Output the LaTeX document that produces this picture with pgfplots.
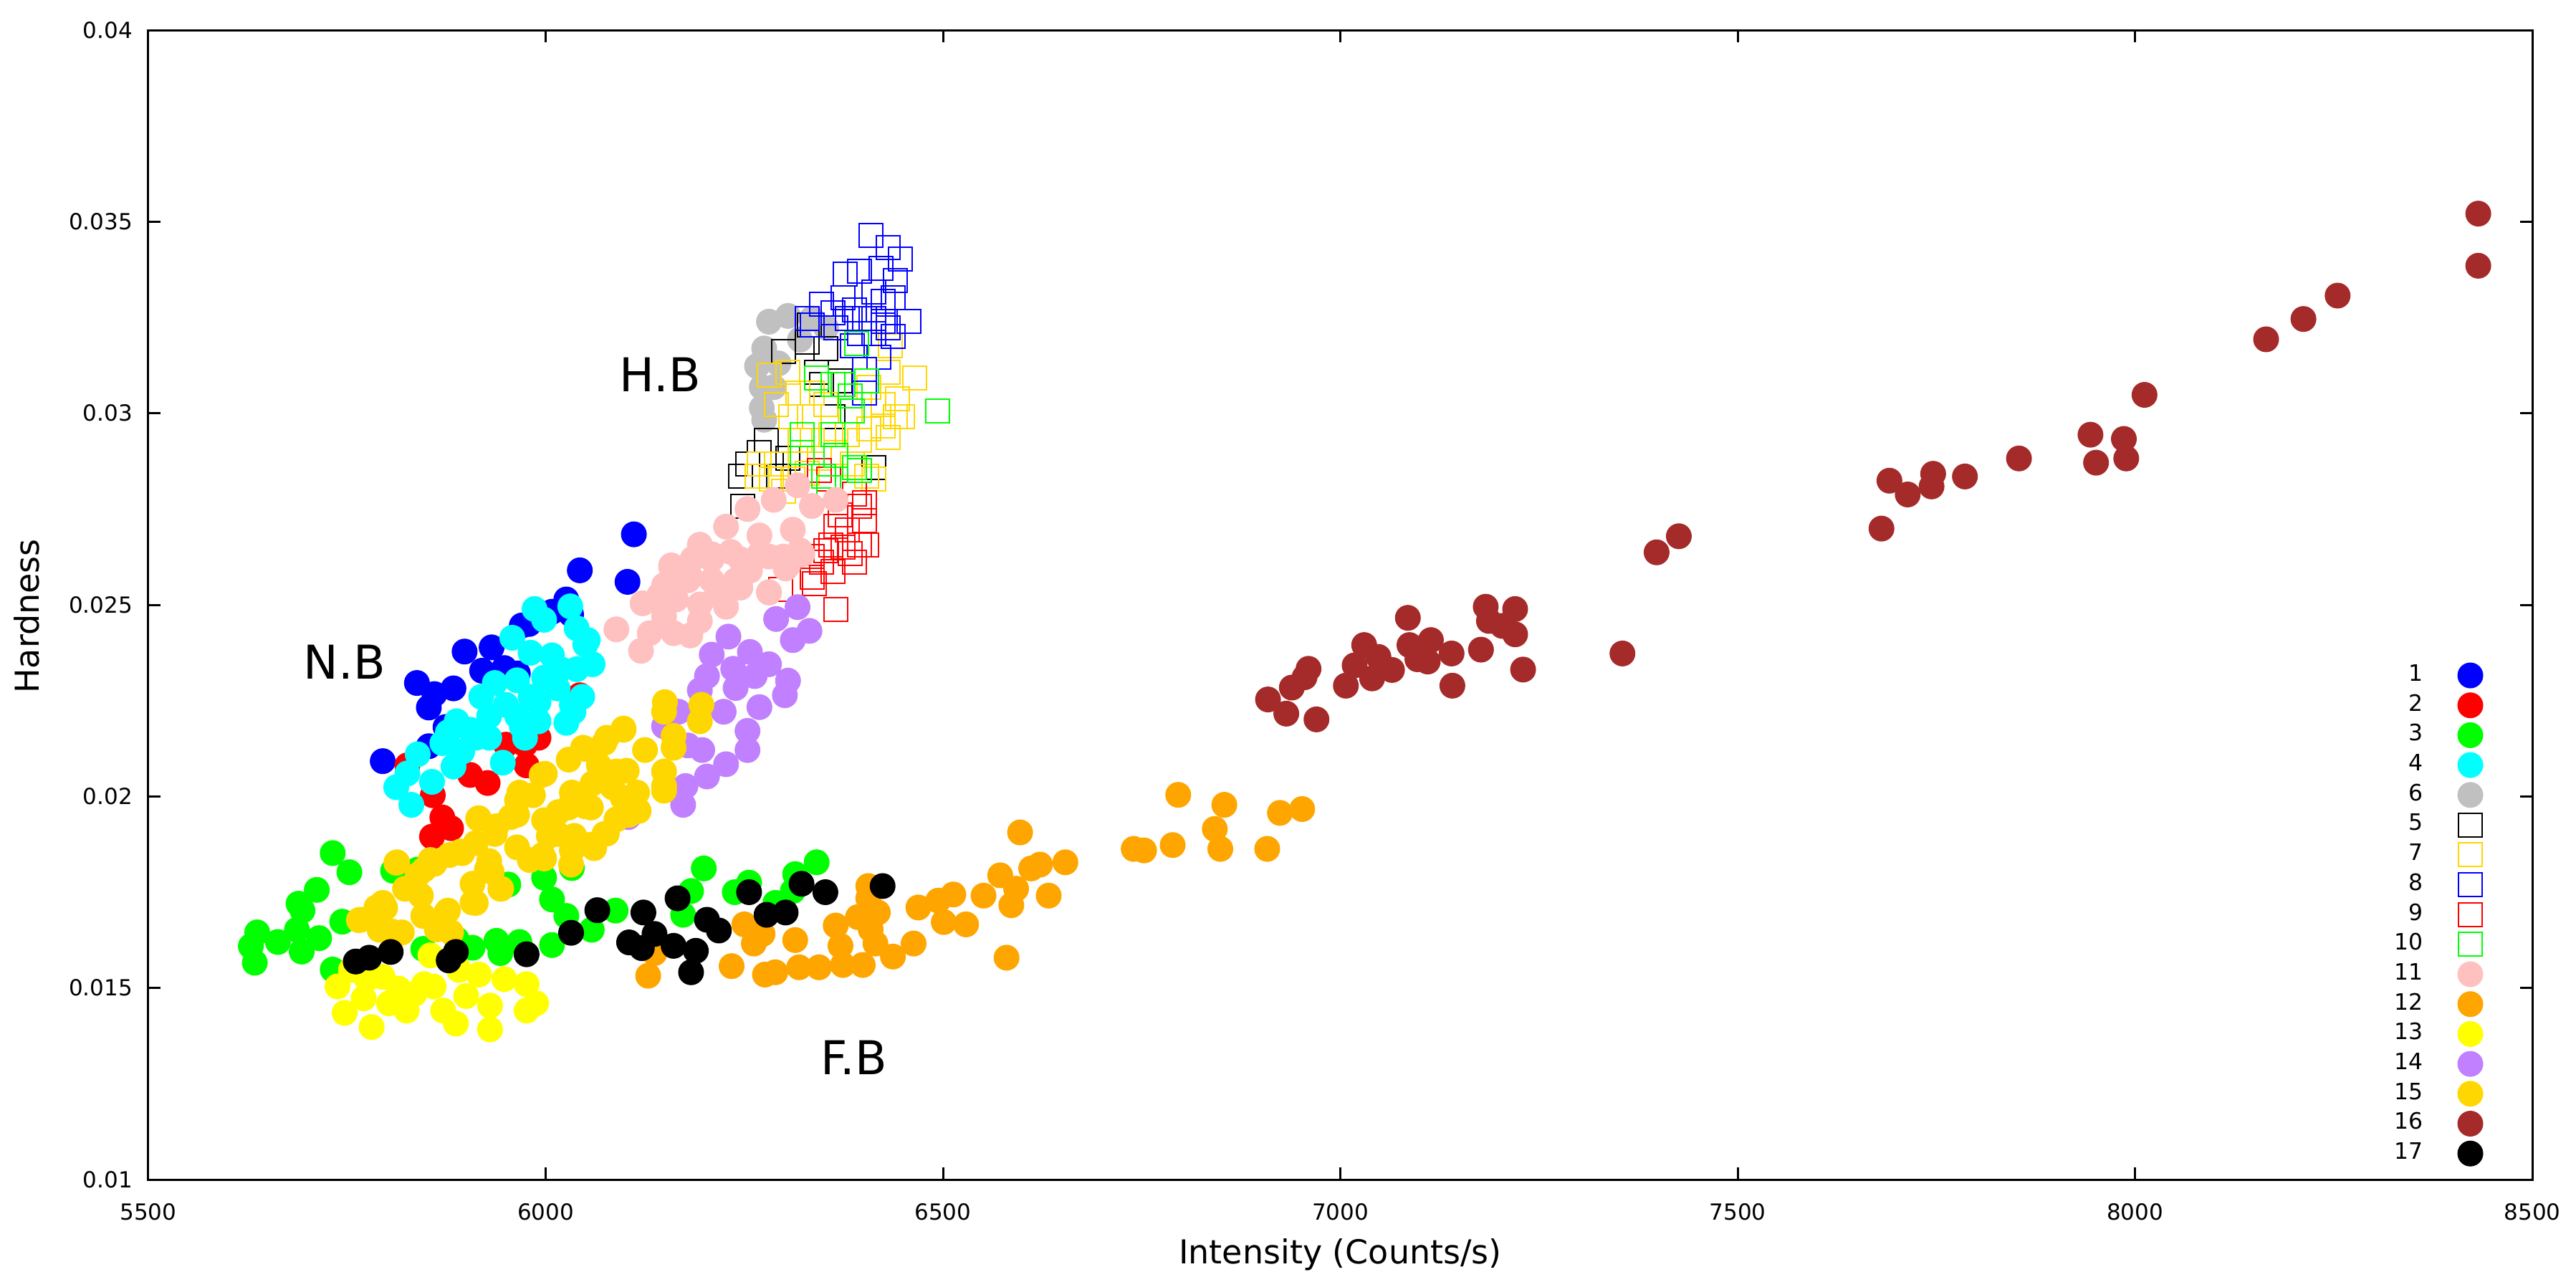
\documentclass[border=0pt]{standalone}
\usepackage{fontspec}
\setmainfont{DejaVu Sans}
\usepackage{pgfplots}
\pgfplotsset{compat=1.18}
\definecolor{cA}{HTML}{0000FF}
\definecolor{cB}{HTML}{FF0000}
\definecolor{cC}{HTML}{00FF00}
\definecolor{cD}{HTML}{00FFFF}
\definecolor{cGray}{HTML}{C0C0C0}
\definecolor{cGold}{HTML}{FFD700}
\definecolor{cPink}{HTML}{FFC0C0}
\definecolor{cOrange}{HTML}{FFA500}
\definecolor{cYellow}{HTML}{FFFF00}
\definecolor{cPurple}{HTML}{C080FF}
\definecolor{cBrown}{HTML}{A52A2A}
\pgfplotsset{
  dot/.style={only marks, mark=*, mark size=3.45pt, mark options={draw=#1, fill=#1, line width=0.3pt},
    legend image code/.code={\path[draw=none, fill=none] (-4pt,-4pt) rectangle (4pt,4pt); \draw[##1] plot coordinates {(0pt,0pt)};}},
  sq/.style={only marks, mark=square, mark size=3.3pt, mark options={draw=#1, fill=none, line width=0.4pt},
    legend image code/.code={\path[draw=none, fill=none] (-4pt,-4pt) rectangle (4pt,4pt); \draw[##1] plot coordinates {(0pt,0pt)};}},
}
\begin{document}
\begin{tikzpicture}
\begin{axis}[name=ax, scale only axis, width=665.4pt, height=320.8pt,
  xmin=5500, xmax=8500, ymin=0.01, ymax=0.04,
  xtick={5500,6000,...,8500}, xticklabels={5500,6000,6500,7000,7500,8000,8500},
  ytick={0.01,0.015,0.02,0.025,0.03,0.035,0.04},
  yticklabels={0.01,0.015,0.02,0.025,0.03,0.035,0.04},
  scaled x ticks=false, scaled y ticks=false,
  tick align=inside, major tick length=3.4pt,
  tick style={black, line width=0.6pt},
  axis line style={line width=0.6pt},
  ticklabel style={font=\fontsize{6.2}{7}\selectfont},
  xticklabel style={anchor=north, inner sep=0pt, yshift=-6.5pt},
  yticklabel style={anchor=east, inner sep=0pt, xshift=-4.2pt},
  xlabel={Intensity (Counts/s)}, ylabel={Hardness},
  xlabel style={font=\fontsize{9.2}{11}\selectfont, at={(axis description cs:0.5,-0.0733)}, anchor=base, inner sep=0pt},
  ylabel style={font=\fontsize{9.2}{11}\selectfont, at={(axis description cs:-0.0511,0.49)}, anchor=center, inner sep=0pt},
  legend plot pos=right,
  legend style={draw=none, fill=none, at={(rel axis cs:1,1)}, anchor=north east,
    xshift=-13.3pt, yshift=-176.1pt, inner sep=0pt, outer sep=0pt, row sep=0.34pt,
    font=\fontsize{6.3}{7}\selectfont, cells={anchor=east}, nodes={inner sep=0pt, outer sep=0pt},
    /tikz/every odd column/.append style={column sep=9.2pt}},
]
% 1
\addplot[dot=cA] coordinates {(6103,0.02560) (6043,0.02590) (6111,0.02684) (6026,0.02514) (5979,0.02450) (5898,0.02378) (5932,0.02389) (5920,0.02328) (5965,0.02321) (5838,0.02296) (5860,0.02267) (5884,0.02282) (5853,0.02232) (5874,0.02181) (5853,0.02131) (5795,0.02092) (6008,0.02482) (5948,0.02335) (5970,0.02446) (6032,0.02475)};
\addlegendentry{1}
% 2
\addplot[dot=cB] coordinates {(5927,0.02035) (5905,0.02056) (5858,0.02003) (5857,0.01895) (5881,0.01917) (5870,0.01945) (5976,0.02081) (5991,0.02153) (5974,0.02135) (5826,0.02081) (6043,0.02264) (5950,0.02135)};
\addlegendentry{2}
% 3
\addplot[dot=cC] coordinates {(5732,0.01852) (5753,0.01802) (5712,0.01756) (5689,0.01720) (5694,0.01702) (5637,0.01645) (5629,0.01609) (5634,0.01566) (5663,0.01620) (5693,0.01595) (5715,0.01630) (5687,0.01652) (5744,0.01673) (5808,0.01806) (5839,0.01809) (5953,0.01770) (5998,0.01788) (6033,0.01813) (6008,0.01731) (6026,0.01688) (6058,0.01652) (6088,0.01702) (6008,0.01612) (5967,0.01620) (5938,0.01623) (5943,0.01591) (5908,0.01605) (5846,0.01602) (5732,0.01548) (5888,0.01627) (6199,0.01812) (6183,0.01753) (6173,0.01691) (6238,0.01750) (6256,0.01775) (6341,0.01828) (6314,0.01797) (6311,0.01753) (6289,0.01722)};
\addlegendentry{3}
% 4
\addplot[dot=cD] coordinates {(5831,0.01978) (5812,0.02024) (5839,0.02110) (5857,0.02038) (5826,0.02060) (5870,0.02139) (5884,0.02078) (5895,0.02117) (5888,0.02196) (5912,0.02153) (5929,0.02210) (5919,0.02260) (5936,0.02296) (5964,0.02303) (5946,0.02088) (5950,0.02239) (5981,0.02260) (5970,0.02182) (5991,0.02196) (6026,0.02192) (6033,0.02239) (6015,0.02282) (6039,0.02332) (6050,0.02396) (6039,0.02439) (5998,0.02461) (5986,0.02489) (6031,0.02496) (5958,0.02414) (5981,0.02375) (6008,0.02368) (5998,0.02310) (5964,0.02210) (5929,0.02153) (5905,0.02174) (5877,0.02167) (5991,0.02246) (6019,0.02332) (6046,0.02260) (5974,0.02153) (6053,0.02408) (6059,0.02345) (6035,0.02221)};
\addlegendentry{4}
% 6
\addplot[dot=cGray] coordinates {(6281,0.03239) (6305,0.03254) (6335,0.03247) (6275,0.03169) (6266,0.03123) (6272,0.03068) (6272,0.03014) (6275,0.02983) (6293,0.03130) (6320,0.03192) (6353,0.03223) (6287,0.03068)};
\addlegendentry{6}
% 5
\addplot[sq=black] coordinates {(6332,0.03231) (6299,0.03161) (6329,0.03185) (6353,0.03169) (6341,0.03107) (6347,0.03076) (6278,0.02929) (6269,0.02898) (6254,0.02867) (6245,0.02836) (6248,0.02758) (6284,0.02867) (6293,0.02836) (6305,0.02882) (6371,0.03084) (6362,0.02991) (6413,0.02859)};
\addlegendentry{5}
% 7
\addplot[sq=cGold] coordinates {(6281,0.03099) (6305,0.03107) (6290,0.03022) (6317,0.03053) (6335,0.03053) (6308,0.02991) (6332,0.02991) (6353,0.03022) (6383,0.03006) (6407,0.03068) (6431,0.03107) (6434,0.03177) (6464,0.03092) (6443,0.03037) (6440,0.02991) (6425,0.02967) (6431,0.02936) (6407,0.02960) (6395,0.02929) (6380,0.02944) (6359,0.02944) (6335,0.02929) (6320,0.02929) (6269,0.02867) (6290,0.02867) (6266,0.02836) (6284,0.02828) (6299,0.02797) (6386,0.02867) (6404,0.02836) (6413,0.02828) (6365,0.02898) (6344,0.02882) (6311,0.02828) (6329,0.02843) (6425,0.03022) (6449,0.02991)};
\addlegendentry{7}
% 8
\addplot[sq=cA] coordinates {(6409,0.03464) (6431,0.03433) (6446,0.03402) (6395,0.03371) (6440,0.03347) (6377,0.03363) (6422,0.03378) (6347,0.03285) (6374,0.03301) (6389,0.03270) (6413,0.03316) (6425,0.03293) (6437,0.03301) (6457,0.03239) (6329,0.03247) (6362,0.03262) (6380,0.03247) (6401,0.03247) (6413,0.03247) (6425,0.03239) (6395,0.03208) (6431,0.03223) (6386,0.03177) (6419,0.03146) (6401,0.03115) (6401,0.03053) (6437,0.03200) (6413,0.03208) (6365,0.03223) (6335,0.03231)};
\addlegendentry{8}
% 9
\addplot[sq=cB] coordinates {(6344,0.02851) (6356,0.02828) (6389,0.02789) (6395,0.02758) (6401,0.02719) (6380,0.02696) (6365,0.02704) (6359,0.02657) (6353,0.02642) (6374,0.02650) (6395,0.02657) (6404,0.02657) (6383,0.02634) (6335,0.02626) (6347,0.02611) (6389,0.02611) (6335,0.02572) (6362,0.02587) (6338,0.02556) (6365,0.02487) (6296,0.02541) (6401,0.02766) (6371,0.02735)};
\addlegendentry{9}
% 10
\addplot[sq=cC] coordinates {(6493,0.03006) (6391,0.03181) (6341,0.03092) (6362,0.03076) (6374,0.03076) (6404,0.03084) (6383,0.03045) (6386,0.03006) (6323,0.02944) (6362,0.02944) (6323,0.02898) (6365,0.02890) (6389,0.02859) (6395,0.02851) (6350,0.02836) (6356,0.02805)};
\addlegendentry{10}
% 11
\addplot[dot=cPink] coordinates {(6317,0.02812) (6287,0.02774) (6254,0.02750) (6365,0.02774) (6335,0.02758) (6311,0.02696) (6269,0.02681) (6227,0.02704) (6194,0.02657) (6158,0.02603) (6182,0.02572) (6143,0.02525) (6209,0.02619) (6245,0.02619) (6281,0.02626) (6305,0.02603) (6281,0.02533) (6320,0.02642) (6239,0.02564) (6215,0.02525) (6158,0.02598) (6185,0.02620) (6209,0.02632) (6233,0.02638) (6269,0.02632) (6299,0.02626) (6323,0.02632) (6302,0.02595) (6281,0.02532) (6245,0.02545) (6227,0.02495) (6194,0.02501) (6179,0.02564) (6149,0.02551) (6122,0.02504) (6131,0.02426) (6161,0.02426) (6182,0.02420) (6194,0.02458) (6149,0.02470) (6089,0.02436) (6120,0.02380) (6209,0.02564) (6257,0.02589) (6164,0.02514)};
\addlegendentry{11}
% 12
\addplot[dot=cOrange] coordinates {(6129,0.01532) (6234,0.01557) (6250,0.01666) (6262,0.01616) (6137,0.01591) (6597,0.01906) (6622,0.01822) (6611,0.01812) (6654,0.01828) (6572,0.01794) (6592,0.01759) (6586,0.01716) (6633,0.01741) (6551,0.01741) (6513,0.01744) (6494,0.01728) (6469,0.01710) (6501,0.01672) (6529,0.01666) (6580,0.01579) (6463,0.01616) (6437,0.01582) (6406,0.01766) (6406,0.01734) (6418,0.01697) (6393,0.01685) (6365,0.01663) (6371,0.01610) (6399,0.01560) (6374,0.01560) (6344,0.01554) (6319,0.01554) (6289,0.01541) (6276,0.01535) (6314,0.01625) (6273,0.01641) (6415,0.01616) (6409,0.01653) (6796,0.02004) (6854,0.01978) (6842,0.01915) (6924,0.01957) (6952,0.01967) (6740,0.01863) (6753,0.01859) (6789,0.01873) (6849,0.01863) (6908,0.01863)};
\addlegendentry{12}
% 13
\addplot[dot=cYellow] coordinates {(5747,0.01435) (5781,0.01398) (5738,0.01504) (5771,0.01473) (5803,0.01460) (5825,0.01441) (5847,0.01510) (5859,0.01504) (5855,0.01585) (5871,0.01441) (5887,0.01407) (5900,0.01479) (5930,0.01454) (5930,0.01392) (5948,0.01523) (5976,0.01510) (5988,0.01460) (5976,0.01441) (5916,0.01535) (5891,0.01547) (5755,0.01547) (5795,0.01529) (5835,0.01485) (5815,0.01498) (5775,0.01523)};
\addlegendentry{13}
% 14
\addplot[dot=cPurple] coordinates {(6230,0.02417) (6290,0.02463) (6317,0.02494) (6332,0.02432) (6311,0.02408) (6281,0.02345) (6305,0.02302) (6301,0.02264) (6257,0.02377) (6209,0.02370) (6203,0.02314) (6194,0.02277) (6239,0.02283) (6269,0.02233) (6254,0.02171) (6254,0.02121) (6227,0.02084) (6203,0.02052) (6176,0.02027) (6173,0.01978) (6197,0.02121) (6167,0.02221) (6149,0.02183) (6179,0.02133) (6224,0.02221) (6263,0.02314) (6236,0.02333) (6104,0.01946)};
\addlegendentry{14}
% 15
\addplot[dot=cGold] coordinates {(5813,0.01828) (5916,0.01943) (5938,0.01922) (5893,0.01856) (5855,0.01834) (5847,0.01809) (5879,0.01847) (5912,0.01878) (5823,0.01759) (5795,0.01722) (5767,0.01678) (5807,0.01647) (5863,0.01653) (5875,0.01697) (5912,0.01722) (5944,0.01759) (5980,0.01834) (5996,0.01847) (6032,0.01822) (6061,0.01865) (6077,0.01903) (6117,0.01962) (6149,0.02015) (5984,0.02003) (5956,0.01946) (5964,0.01990) (6016,0.01959) (6057,0.01971) (6097,0.01996) (6036,0.01897) (6004,0.01897) (5932,0.01803) (5908,0.01772) (5843,0.01741) (5787,0.01710) (6098,0.02174) (6077,0.02153) (6050,0.02124) (6029,0.02096) (5995,0.02056) (5967,0.02010) (5964,0.01952) (5915,0.01942) (5936,0.01902) (5964,0.01867) (5998,0.01838) (6033,0.01859) (6057,0.01874) (6074,0.01902) (6105,0.01952) (6115,0.02010) (6102,0.02067) (6067,0.02081) (6033,0.02010) (5998,0.01938) (5895,0.01852) (5860,0.01824) (5839,0.01795) (5812,0.01827) (5926,0.01809) (5943,0.01759) (5908,0.01723) (5877,0.01702) (5846,0.01688) (5798,0.01709) (5765,0.01677) (5791,0.01652) (5819,0.01645) (5881,0.01645) (5929,0.01831) (6015,0.01902) (6050,0.01974) (6084,0.02024) (6150,0.02246) (6149,0.02221) (6196,0.02239) (6194,0.02196) (6161,0.02158) (6161,0.02127) (6149,0.02065) (6149,0.02027) (6098,0.02177) (6125,0.02121) (6116,0.01965) (6074,0.02140) (6047,0.02127) (5999,0.02059) (6059,0.02034) (6089,0.02065) (6029,0.01971) (6089,0.01940)};
\addlegendentry{15}
% 16
\addplot[dot=cBrown] coordinates {(6909,0.02253) (6932,0.02216) (6939,0.02284) (6960,0.02333) (6955,0.02311) (6970,0.02201) (7007,0.02289) (7030,0.02395) (7018,0.02342) (7040,0.02308) (7048,0.02364) (7065,0.02330) (7085,0.02466) (7087,0.02395) (7097,0.02358) (7114,0.02408) (7110,0.02352) (7140,0.02373) (7141,0.02289) (7177,0.02383) (7183,0.02495) (7187,0.02458) (7204,0.02445) (7220,0.02489) (7220,0.02423) (7230,0.02331) (7355,0.02373) (7398,0.02637) (7426,0.02679) (7681,0.02699) (7691,0.02824) (7714,0.02788) (7746,0.02842) (7744,0.02809) (7786,0.02835) (7854,0.02882) (7944,0.02944) (7951,0.02871) (7986,0.02933) (7989,0.02882) (8012,0.03048) (8165,0.03193) (8212,0.03246) (8255,0.03307) (8432,0.03521) (8432,0.03385)};
\addlegendentry{16}
% 17
\addplot[dot=black] coordinates {(5761,0.01569) (5778,0.01579) (5805,0.01594) (5878,0.01572) (5887,0.01594) (5976,0.01588) (6032,0.01644) (6065,0.01703) (6123,0.01697) (6166,0.01734) (6105,0.01619) (6121,0.01604) (6137,0.01641) (6161,0.01610) (6183,0.01541) (6189,0.01597) (6203,0.01678) (6218,0.01650) (6256,0.01750) (6278,0.01691) (6302,0.01697) (6322,0.01772) (6352,0.01750) (6424,0.01766)};
\addlegendentry{17}
\node[font=\fontsize{13}{15}\selectfont] at (axis cs:6144,0.03101) {H.B};
\node[font=\fontsize{13}{15}\selectfont] at (axis cs:5747,0.02350) {N.B};
\node[font=\fontsize{13}{15}\selectfont] at (axis cs:6388,0.01319) {F.B};
\end{axis}
\pgfresetboundingbox
\path (ax.south west) ++(-41.4pt,-27pt) rectangle ++(719pt,356.2pt);
\end{tikzpicture}
\end{document}
